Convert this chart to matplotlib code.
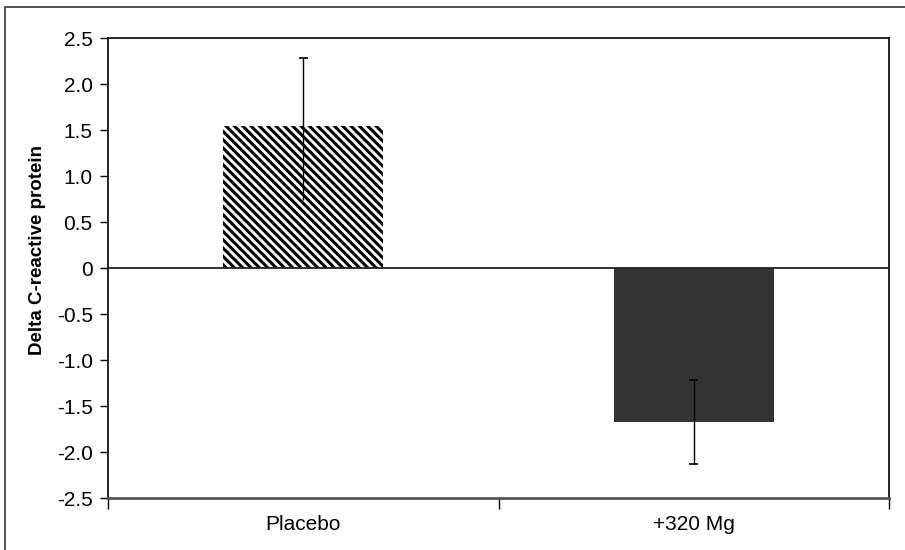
import matplotlib
matplotlib.use("Agg")
import matplotlib.pyplot as plt
from matplotlib.patches import Rectangle
from matplotlib.ticker import FixedLocator, FuncFormatter

plt.rcParams['font.family'] = ['Liberation Sans', 'DejaVu Sans']
plt.rcParams['hatch.linewidth'] = 2.2
plt.rcParams['hatch.color'] = 'black'

categories = ["Placebo", "+320 Mg"]
values = [1.54, -1.67]
err_low = [0.74, -2.13]
err_high = [2.28, -1.22]
lower_cap = [False, True]
y_ticks = [-2.5, -2.0, -1.5, -1.0, -0.5, 0, 0.5, 1.0, 1.5, 2.0, 2.5]

fs = 15

fig = plt.figure(figsize=(9.05, 5.5), dpi=100)
fig.patches.append(Rectangle((5/905, -0.05), 1.1, 1 - 6.5/550 + 0.05,
                             transform=fig.transFigure, fill=False,
                             edgecolor='#444444', linewidth=1.3))
ax = fig.add_axes([108/905, 52/550, 781/905, 460/550])

x = list(range(len(categories)))
ax.bar(x[0], values[0], width=0.41, facecolor='white', hatch='\\\\\\\\',
       edgecolor='black', linewidth=0, zorder=2)
ax.bar(x[1], values[1], width=0.41, color='#333333', linewidth=0, zorder=2)

for xi, lo, hi, lc in zip(x, err_low, err_high, lower_cap):
    ax.vlines(xi, lo, hi, color='black', linewidth=1.0, zorder=3)
    ax.hlines(hi, xi - 0.012, xi + 0.012, color='black', linewidth=1.2, zorder=3)
    if lc:
        ax.hlines(lo, xi - 0.012, xi + 0.012, color='black', linewidth=1.2, zorder=3)

ax.axhline(0, color='#222222', linewidth=1.3, zorder=4)

ax.set_xlim(-0.5, 1.5)
ax.set_ylim(-2.5, 2.5)
ax.yaxis.set_major_locator(FixedLocator(y_ticks))
ax.yaxis.set_major_formatter(FuncFormatter(lambda v, p: "0" if abs(v) < 1e-9 else f"{v:.1f}"))
ax.tick_params(axis='y', direction='out', length=6, width=1, pad=5, labelsize=fs)

ax.set_xticks([-0.5, 0.5, 1.5])
ax.set_xticklabels([])
ax.set_xticks(x, minor=True)
ax.set_xticklabels(categories, minor=True)
ax.tick_params(axis='x', which='major', direction='out', length=8, width=1)
ax.tick_params(axis='x', which='minor', length=0, pad=12, labelsize=fs)

for s in ['left', 'top', 'right']:
    ax.spines[s].set_linewidth(1.2)
    ax.spines[s].set_color('black')
ax.spines['bottom'].set_linewidth(2)
ax.spines['bottom'].set_color('#555555')

ax.set_ylabel("Delta C-reactive protein", fontsize=13.5, fontweight='bold')
ax.yaxis.set_label_coords(-0.08, 0.54)

fig.savefig("out.png", dpi=100)
